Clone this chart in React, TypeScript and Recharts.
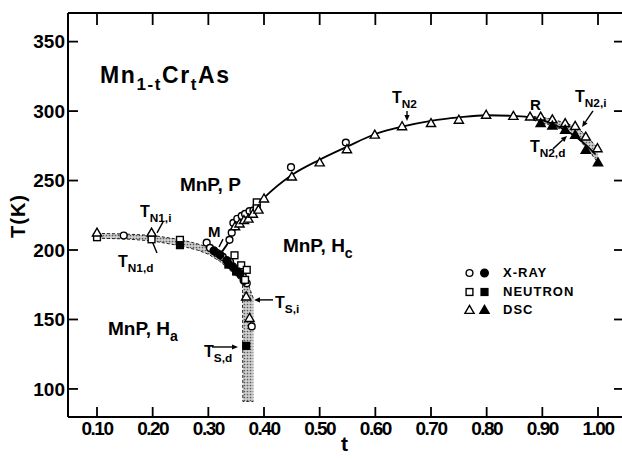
import React from 'react';
import {
  ComposedChart,
  XAxis,
  YAxis,
  Scatter,
  Line,
  Area,
  ReferenceDot,
  ReferenceLine,
  Legend,
  Label,
} from 'recharts';

const FONT = '"Liberation Sans", Arial, Helvetica, sans-serif';

// ---- axis ticks ----
const tTicks = [0.1, 0.2, 0.3, 0.4, 0.5, 0.6, 0.7, 0.8, 0.9, 1.0];
const tempTicks = [100, 150, 200, 250, 300, 350];

// ---- upper (T_N2) solid curve ----
const upperT = [0.325, 0.338, 0.345, 0.36, 0.38, 0.4, 0.45, 0.5, 0.55, 0.6, 0.65, 0.7, 0.75, 0.8, 0.85, 0.88, 0.9, 0.92, 0.94, 0.96, 0.98, 0.995];
const upperV = [199, 207, 213, 220, 229, 237.5, 254, 265, 274.5, 283.5, 289, 293, 295.5, 297, 296.5, 295.5, 293.5, 290.5, 286.5, 281.5, 275, 269];

// ---- T_N1 / T_S hysteresis band ----
const n1T = [0.1, 0.15, 0.2, 0.25, 0.28, 0.3, 0.32, 0.335, 0.35, 0.358, 0.3615, 0.362, 0.365, 0.372, 0.381];
const n1Lo = [208.5, 208, 206.5, 203, 200, 197, 192, 187, 181, 178, 176, 91, 91, 91, 91];
const n1Hi = [212, 211.5, 210.5, 207.5, 204.5, 202, 198, 194, 188, 184, 182.5, 182, 180, 175, 165];

// ---- T_N2 hysteresis band ----
const n2T = [0.875, 0.9, 0.92, 0.94, 0.96, 0.98, 1.0];
const n2Lo = [294.5, 291.5, 289, 286, 282, 273, 263];
const n2Hi = [296.5, 295.5, 294, 291.5, 289, 282, 273];

// ---- measured points [t, T(K)] ----
const xrayOpen = [
  [0.148, 210.4], [0.198, 210.3], [0.297, 205.3], [0.303, 201.5], [0.315, 198], [0.326, 195],
  [0.339, 191.5], [0.352, 186], [0.362, 181], [0.369, 176], [0.378, 145], [0.338, 207.3],
  [0.342, 212.5], [0.345, 219.5], [0.352, 222.5], [0.36, 224.5], [0.366, 226], [0.374, 228],
  [0.381, 228.5], [0.4485, 259.6], [0.547, 277.3],
];
const xrayFilled = [[0.31, 199.5], [0.321, 196.5], [0.333, 192.5], [0.344, 188], [0.357, 183], [0.364, 178]];
const neutronOpen = [
  [0.1, 209.2], [0.198, 207.7], [0.249, 207.3], [0.347, 196.2], [0.359, 189], [0.369, 185.7],
  [0.366, 178.5], [0.387, 234.3], [0.387, 230],
];
const neutronFilled = [[0.249, 203.5], [0.336, 189.5], [0.35, 184.5], [0.368, 131]];
const dscOpen = [
  [0.1, 212.5], [0.198, 212.5], [0.368, 166.5], [0.374, 151], [0.348, 217], [0.356, 219],
  [0.364, 221.5], [0.372, 222.5], [0.38, 226], [0.39, 229], [0.4, 237], [0.45, 252.8],
  [0.5, 263], [0.549, 272.5], [0.599, 283], [0.648, 289], [0.7, 291.3], [0.75, 293.7],
  [0.799, 297.3], [0.848, 296.5], [0.878, 296], [0.897, 296], [0.918, 294], [0.941, 291.3],
  [0.959, 289.3], [0.978, 281.6], [0.999, 273.2],
];
const dscFilled = [[0.897, 291.3], [0.918, 289.5], [0.941, 286.5], [0.959, 282.9], [0.978, 272], [1.0, 263]];

// ---- annotations (data coordinates) ----
type Seg = { s: string; sub?: boolean };
type Note = { t: number; v: number; segs: Seg[]; size: number; ls?: number };
const notes: Note[] = [
  { t: 0.1054, v: 320.3, size: 23, ls: 1.6, segs: [{ s: 'Mn' }, { s: '1-t', sub: true }, { s: 'Cr' }, { s: 't', sub: true }, { s: 'As' }] },
  { t: 0.249, v: 242.5, size: 19, segs: [{ s: 'MnP, P' }] },
  { t: 0.434, v: 198.6, size: 19, segs: [{ s: 'MnP, H' }, { s: 'c', sub: true }] },
  { t: 0.1198, v: 138.9, size: 19, segs: [{ s: 'MnP, H' }, { s: 'a', sub: true }] },
  { t: 0.2994, v: 209.4, size: 15, segs: [{ s: 'M' }] },
  { t: 0.8778, v: 300.9, size: 15, segs: [{ s: 'R' }] },
  { t: 0.63, v: 305.9, size: 16, segs: [{ s: 'T' }, { s: 'N2', sub: true }] },
  { t: 0.9587, v: 306.6, size: 16, segs: [{ s: 'T' }, { s: 'N2,i', sub: true }] },
  { t: 0.8778, v: 270.6, size: 16, segs: [{ s: 'T' }, { s: 'N2,d', sub: true }] },
  { t: 0.1772, v: 223.8, size: 16, segs: [{ s: 'T' }, { s: 'N1,i', sub: true }] },
  { t: 0.1377, v: 187.8, size: 16, segs: [{ s: 'T' }, { s: 'N1,d', sub: true }] },
  { t: 0.4198, v: 158.3, size: 16, segs: [{ s: 'T' }, { s: 'S,i', sub: true }] },
  { t: 0.2922, v: 123, size: 16, segs: [{ s: 'T' }, { s: 'S,d', sub: true }] },
];
const arrows = [
  { from: [0.6569, 300.1], to: [0.6569, 292.9], head: true },
  { from: [0.991, 300.1], to: [0.9713, 288.6], head: true },
  { from: [0.9191, 272.8], to: [0.9443, 282.1], head: true },
  { from: [0.2186, 220.2], to: [0.2078, 212.3], head: false },
  { from: [0.2078, 197.9], to: [0.1988, 206.5], head: false },
  { from: [0.4162, 164.1], to: [0.382, 164.1], head: true },
  { from: [0.3066, 130.2], to: [0.3533, 130.2], head: true },
  { from: [0.3264, 207.8], to: [0.3192, 202.2], head: false },
];

const legendRows = [
  { kind: 'circle', label: 'X-RAY' },
  { kind: 'square', label: 'NEUTRON' },
  { kind: 'triangle', label: 'DSC' },
];

// ---- build data ----
const pts = (a: number[][]) => a.map(([t, v]) => ({ t, v }));
const upperData = upperT.map((t, i) => ({ t, v: upperV[i] }));
const n1Data = n1T.map((t, i) => ({ t, range: [n1Lo[i], n1Hi[i]] }));
const n2Data = n2T.map((t, i) => ({ t, range: [n2Lo[i], n2Hi[i]] }));

const X_DOMAIN: [number, number] = [0.0479, 1.0449];
const Y_DOMAIN: [number, number] = [79.8, 370.6];
const PLOT_W = 555;
const PLOT_H = 404;
// inward tick length (10 px) expressed in axis units
const TICK_DY = (10 * (Y_DOMAIN[1] - Y_DOMAIN[0])) / PLOT_H;
const TICK_DX = (10 * (X_DOMAIN[1] - X_DOMAIN[0])) / PLOT_W;

function MarkerGlyph({ kind, filled, cx, cy }: { kind: string; filled: boolean; cx: number; cy: number }) {
  const fill = filled ? '#000' : '#fff';
  const sw = 1.4;
  if (kind === 'circle') return <circle cx={cx} cy={cy} r={filled ? 3.8 : 3.4} fill={fill} stroke="#000" strokeWidth={sw} />;
  if (kind === 'square') return <rect x={cx - 3.4} y={cy - 3.4} width={6.8} height={6.8} fill={fill} stroke="#000" strokeWidth={sw} />;
  return (
    <polygon
      points={`${cx},${cy - 4.6} ${cx - 4.6},${cy + 3.4} ${cx + 4.6},${cy + 3.4}`}
      fill={fill}
      stroke="#000"
      strokeWidth={sw}
      strokeLinejoin="miter"
    />
  );
}

const markerShape = (kind: string, filled: boolean) => (p: any) => {
  if (p == null || p.cx == null || p.cy == null) return <g />;
  return <MarkerGlyph kind={kind} filled={filled} cx={p.cx} cy={p.cy} />;
};

function RichText({ x, y, segs, size, ls }: { x: number; y: number; segs: Seg[]; size: number; ls?: number }) {
  const subSize = size * 0.74;
  const shift = size * 0.3;
  let prevSub = false;
  return (
    <text x={x} y={y} fontFamily={FONT} fontWeight="bold" fontSize={size} letterSpacing={ls ?? 0} fill="#000">
      {segs.map((g, i) => {
        let dy = 0;
        if (g.sub && !prevSub) dy = shift;
        else if (!g.sub && prevSub) dy = -shift;
        prevSub = !!g.sub;
        return (
          <tspan key={i} dy={dy} fontSize={g.sub ? subSize : size}>
            {g.s}
          </tspan>
        );
      })}
    </text>
  );
}

const arrowShape = (head: boolean, sw = 1.4) => (p: any) => {
  const { x1, y1, x2, y2 } = p;
  if ([x1, y1, x2, y2].some((n) => n == null || isNaN(n))) return <g />;
  const a = Math.atan2(y2 - y1, x2 - x1);
  const L = 6;
  const W = 2.6;
  const bx = x2 - L * Math.cos(a);
  const by = y2 - L * Math.sin(a);
  const pts2 = `${x2},${y2} ${bx + W * Math.sin(a)},${by - W * Math.cos(a)} ${bx - W * Math.sin(a)},${by + W * Math.cos(a)}`;
  return (
    <g>
      <line x1={x1} y1={y1} x2={head ? bx : x2} y2={head ? by : y2} stroke="#000" strokeWidth={sw} />
      {head && <polygon points={pts2} fill="#000" />}
    </g>
  );
};
const tickMarkShape = arrowShape(false, 1.8);

const BOTTOM_GAP = 5;
const LEFT_GAP = 3;
const XTick = (p: any) => (
  <text
    x={p.x}
    y={p.y}
    dy="0.71em"
    textAnchor="middle"
    fontFamily={FONT}
    fontWeight="bold"
    fontSize={19}
    letterSpacing={-1.5}
    fill="#000"
  >
    {Number(p.payload.value).toFixed(2)}
  </text>
);

const YTick = (p: any) => (
  <text x={p.x} y={p.y} dy="0.36em" textAnchor="end" fontFamily={FONT} fontWeight="bold" fontSize={19} fill="#000">
    {p.payload.value}
  </text>
);

const TopTick = (p: any) => <line x1={p.x} y1={p.y} x2={p.x} y2={p.y + 12} stroke="#000" strokeWidth={1.8} />;
const RightTick = (p: any) => <line x1={p.x} y1={p.y} x2={p.x - 9} y2={p.y} stroke="#000" strokeWidth={1.8} />;

function LegendBox() {
  return (
    <div style={{ fontFamily: FONT, fontWeight: 'bold', fontSize: 13, letterSpacing: 1, color: '#000' }}>
      {legendRows.map((r) => (
        <div key={r.label} style={{ display: 'flex', alignItems: 'center', height: 18.5 }}>
          <svg width={15} height={14} style={{ display: 'block' }}>
            <MarkerGlyph kind={r.kind} filled={false} cx={7.5} cy={7} />
          </svg>
          <svg width={15} height={14} style={{ display: 'block' }}>
            <MarkerGlyph kind={r.kind} filled={true} cx={7.5} cy={7} />
          </svg>
          <span style={{ marginLeft: 11, lineHeight: '14px' }}>{r.label}</span>
        </div>
      ))}
    </div>
  );
}

const axisLine = { stroke: '#000', strokeWidth: 2 };

export default function App() {
  return (
    <div style={{ position: 'absolute', left: 0, top: 0, width: 622, height: 461, overflow: 'hidden', background: '#fff' }}>
      <ComposedChart width={625} height={461} margin={{ top: 12, right: 1, bottom: 0, left: 8 }}>
        <defs>
          <pattern id="stip" width="3" height="3" patternUnits="userSpaceOnUse">
            <rect width="3" height="3" fill="#cfcfcf" />
            <circle cx="1.5" cy="1.5" r="0.85" fill="#5a5a5a" />
          </pattern>
        </defs>
        <XAxis
          dataKey="t"
          type="number"
          domain={X_DOMAIN}
          ticks={tTicks}
          interval={0}
          allowDataOverflow
          height={44}
          tickSize={0}
          tickMargin={BOTTOM_GAP}
          tick={<XTick />}
          axisLine={axisLine}
          tickLine={false}
        >
          <Label
            content={(lp: any) => {
              const vb = lp.viewBox || { x: 68, y: 417, width: 555 };
              return (
                <text x={vb.x + vb.width / 2 - 1} y={vb.y + 34} textAnchor="middle" fontFamily={FONT} fontWeight="bold" fontSize={21} fill="#000">
                  t
                </text>
              );
            }}
          />
        </XAxis>
        <XAxis
          xAxisId="top"
          orientation="top"
          dataKey="t"
          type="number"
          domain={X_DOMAIN}
          ticks={tTicks}
          interval={0}
          allowDataOverflow
          height={1}
          tickSize={0}
          tickMargin={0}
          tick={<TopTick />}
          axisLine={axisLine}
          tickLine={false}
        />
        <YAxis
          dataKey="v"
          type="number"
          domain={Y_DOMAIN}
          ticks={tempTicks}
          interval={0}
          allowDataOverflow
          width={60}
          tickSize={0}
          tickMargin={LEFT_GAP}
          tick={<YTick />}
          axisLine={axisLine}
          tickLine={false}
        >
          <Label
            content={(lp: any) => {
              const vb = lp.viewBox || { x: 8, y: 13, height: 404 };
              const cx = vb.x + 10;
              const cy = vb.y + vb.height / 2 + 1;
              return (
                <text
                  x={cx}
                  y={cy}
                  transform={`rotate(-90 ${cx} ${cy})`}
                  textAnchor="middle"
                  dominantBaseline="central"
                  fontFamily={FONT}
                  fontWeight="bold"
                  fontSize={20}
                  letterSpacing={1}
                  fill="#000"
                >
                  T(K)
                </text>
              );
            }}
          />
        </YAxis>
        <YAxis
          yAxisId="right"
          orientation="right"
          dataKey="v"
          type="number"
          domain={Y_DOMAIN}
          ticks={tempTicks}
          interval={0}
          allowDataOverflow
          width={1}
          tickSize={0}
          tickMargin={0}
          tick={<RightTick />}
          axisLine={axisLine}
          tickLine={false}
        />

        <Area
          data={n1Data}
          dataKey="range"
          type="linear"
          stroke="#222"
          strokeWidth={1}
          strokeDasharray="3 2"
          fill="url(#stip)"
          fillOpacity={1}
          isAnimationActive={false}
          dot={false}
          activeDot={false}
          legendType="none"
        />
        <Area
          data={n2Data}
          dataKey="range"
          type="linear"
          stroke="#222"
          strokeWidth={1}
          strokeDasharray="3 2"
          fill="url(#stip)"
          fillOpacity={1}
          isAnimationActive={false}
          dot={false}
          activeDot={false}
          legendType="none"
        />
        <Line
          data={upperData}
          dataKey="v"
          type="monotone"
          stroke="#000"
          strokeWidth={1.8}
          dot={false}
          activeDot={false}
          isAnimationActive={false}
          legendType="none"
        />

        <Scatter name="X-RAY" data={pts(xrayOpen)} dataKey="v" shape={markerShape('circle', false)} isAnimationActive={false} />
        <Scatter name="X-RAY filled" data={pts(xrayFilled)} dataKey="v" shape={markerShape('circle', true)} isAnimationActive={false} />
        <Scatter name="NEUTRON" data={pts(neutronOpen)} dataKey="v" shape={markerShape('square', false)} isAnimationActive={false} />
        <Scatter name="NEUTRON filled" data={pts(neutronFilled)} dataKey="v" shape={markerShape('square', true)} isAnimationActive={false} />
        <Scatter name="DSC" data={pts(dscOpen)} dataKey="v" shape={markerShape('triangle', false)} isAnimationActive={false} />
        <Scatter name="DSC filled" data={pts(dscFilled)} dataKey="v" shape={markerShape('triangle', true)} isAnimationActive={false} />

        {/* inward tick marks on the bottom and left axes */}
        {tTicks.map((t) => (
          <ReferenceLine
            key={'bt' + t}
            segment={[
              { x: t, y: Y_DOMAIN[0] },
              { x: t, y: Y_DOMAIN[0] + TICK_DY },
            ]}
            ifOverflow="visible"
            shape={tickMarkShape}
          />
        ))}
        {tempTicks.map((v) => (
          <ReferenceLine
            key={'lt' + v}
            segment={[
              { x: X_DOMAIN[0], y: v },
              { x: X_DOMAIN[0] + TICK_DX, y: v },
            ]}
            ifOverflow="visible"
            shape={tickMarkShape}
          />
        ))}

        {arrows.map((a, i) => (
          <ReferenceLine
            key={'a' + i}
            segment={[
              { x: a.from[0], y: a.from[1] },
              { x: a.to[0], y: a.to[1] },
            ]}
            ifOverflow="visible"
            shape={arrowShape(a.head)}
          />
        ))}
        {notes.map((n, i) => (
          <ReferenceDot
            key={'n' + i}
            x={n.t}
            y={n.v}
            r={0}
            ifOverflow="visible"
            shape={(p: any) => <RichText x={p.cx} y={p.cy} segs={n.segs} size={n.size} ls={n.ls} />}
          />
        ))}

        <Legend
          layout="vertical"
          align="center"
          verticalAlign="middle"
          wrapperStyle={{ left: 462, top: 264, width: 150, height: 56 }}
          content={() => <LegendBox />}
        />
      </ComposedChart>
    </div>
  );
}
